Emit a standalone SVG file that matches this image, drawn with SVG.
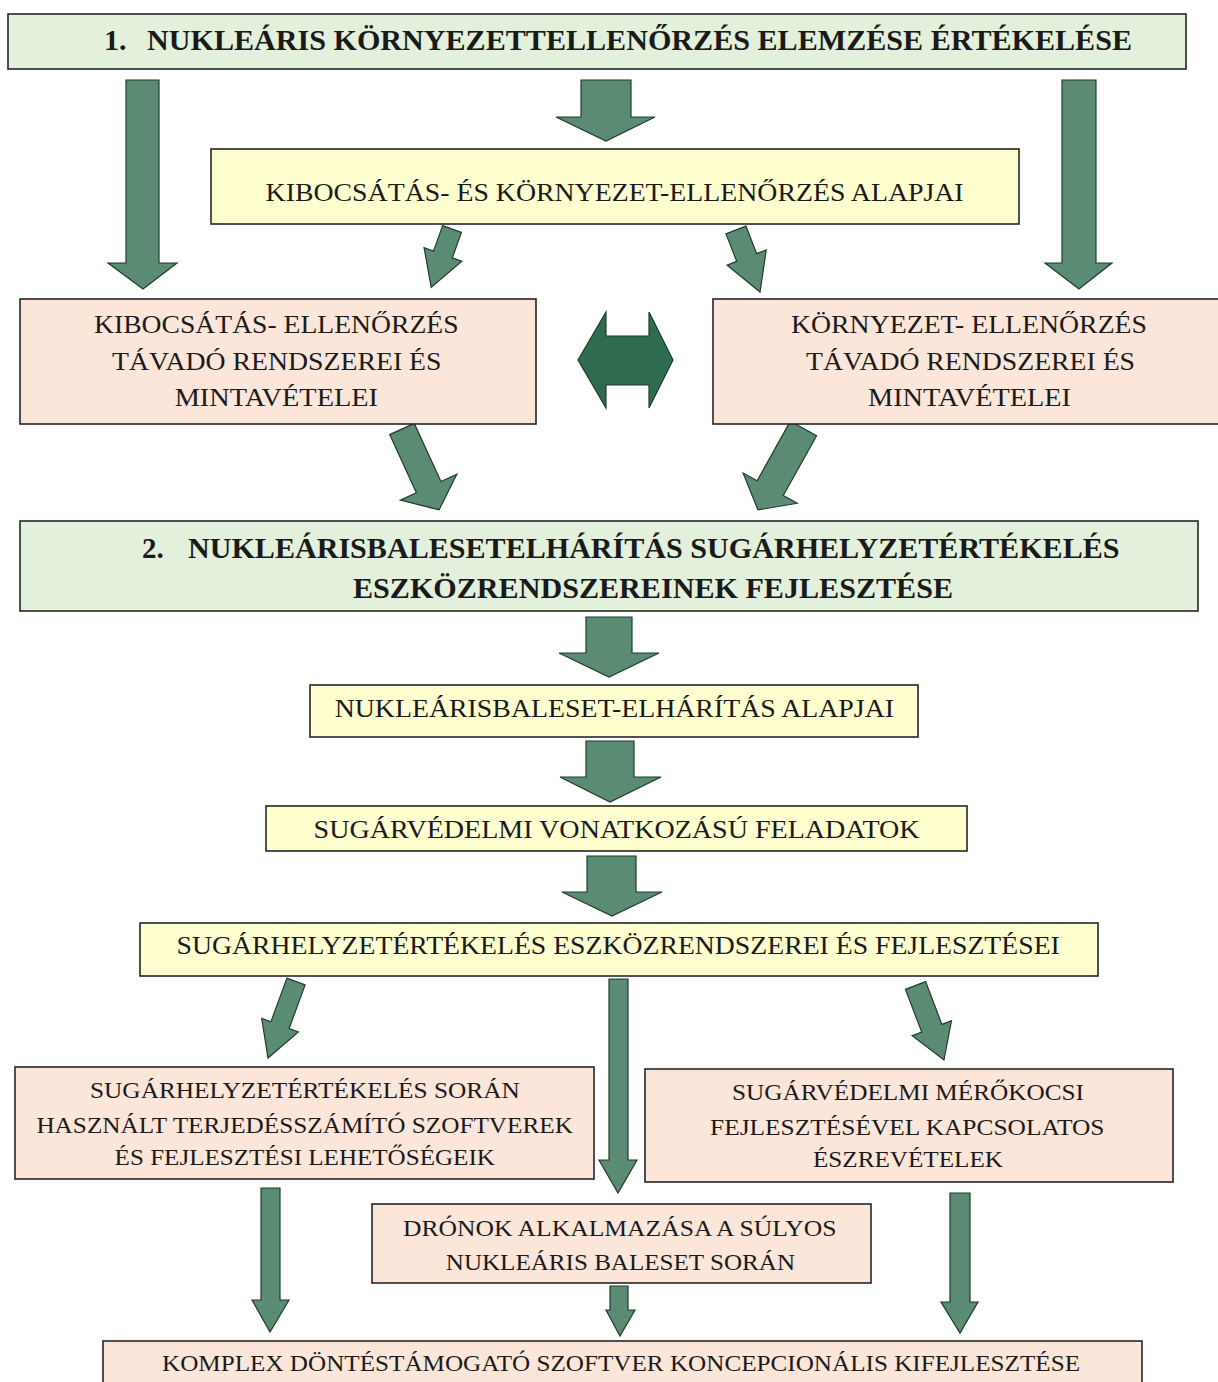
<svg xmlns="http://www.w3.org/2000/svg" width="1218" height="1382" viewBox="0 0 1218 1382">
<defs>
<style>
.box{stroke:#262626;stroke-width:1.6}
.g{fill:#e3f0db}
.y{fill:#ffffd0}
.p{fill:#fce6da}
.arr{fill:#5b8c73;stroke:#1f3b2c;stroke-width:1.2;stroke-linejoin:miter}
.dark{fill:#2f6c4f;stroke:#1f3b2c;stroke-width:1.2}
text{font-family:"Liberation Serif","Times New Roman",serif;fill:#1a1a1a;lengthAdjust:spacingAndGlyphs}
.t26{font-size:26px}
.t24{font-size:24px}
.b30{font-size:30px;font-weight:bold}
.b29{font-size:29px;font-weight:bold}
</style>
</defs>
<rect width="1218" height="1382" fill="#ffffff"/>

<g id="connectors">
<polygon class="arr" points="126,80 159,80 159,263 177,263 143,289 108,263 126,263"/>
<polygon class="arr" points="581,80 631,80 631,117 655,117 606,141 556,117 581,117"/>
<polygon class="arr" points="1062,80 1096,80 1096,263 1112,263 1079,289 1045,263 1062,263"/>
<polygon class="arr" transform="translate(452,229) rotate(19.6)" points="-10,0 10,0 10,27 20,27 0,62 -20,27 -10,27"/>
<polygon class="arr" transform="translate(736,230) rotate(-21.2)" points="-10.7,0 10.7,0 10.7,29.5 21,29.5 0,66.5 -21,29.5 -10.7,29.5"/>
<polygon class="dark" points="578,360 606,312 606,336 649,336 649,312 673,360 649,408 649,385 606,385 606,408"/>
<polygon class="arr" transform="translate(402,429) rotate(-24.6)" points="-13.5,0 13.5,0 13.5,64 31,64 0,89 -31,64 -13.5,64"/>
<polygon class="arr" transform="translate(803.5,428.5) rotate(29.2)" points="-15,0 15,0 15,68.3 31,68.3 0,93.3 -31,68.3 -15,68.3"/>
<polygon class="arr" points="586,617 632,617 632,653 659,653 609,677 559,653 586,653"/>
<polygon class="arr" points="586,741 634,741 634,777 661,777 610,802 560,777 586,777"/>
<polygon class="arr" points="587,856 636,856 636,892 662,892 612,916 562,892 587,892"/>
<polygon class="arr" transform="translate(296,981.5) rotate(20.1)" points="-9.7,0 9.7,0 9.7,46.5 19.5,46.5 0,81.5 -19.5,46.5 -9.7,46.5"/>
<polygon class="arr" points="609,979 628,979 628,1160 637,1160 618,1193 599,1160 609,1160"/>
<polygon class="arr" transform="translate(915.5,985.5) rotate(-20.9)" points="-10.8,0 10.8,0 10.8,45.8 21,45.8 0,79.8 -21,45.8 -10.8,45.8"/>
<polygon class="arr" points="261,1188 280,1188 280,1300 289,1300 270,1332 252,1300 261,1300"/>
<polygon class="arr" points="610,1286 628,1286 628,1310 635,1310 620,1336 606,1310 610,1310"/>
<polygon class="arr" points="950,1193 970,1193 970,1302 978,1302 960,1333 941,1302 950,1302"/>
</g>

<g id="n1">
<rect class="box g" x="8" y="14" width="1178" height="55"/>
<text class="b30" x="104" y="50">1.</text>
<text class="b30" x="147" y="50" textLength="985" lengthAdjust="spacingAndGlyphs">NUKLEÁRIS KÖRNYEZETTELLENŐRZÉS ELEMZÉSE ÉRTÉKELÉSE</text>
</g>

<g id="n2">
<rect class="box y" x="211" y="149" width="808" height="75"/>
<text class="t26" x="265.6" y="201" textLength="698" lengthAdjust="spacingAndGlyphs">KIBOCSÁTÁS- ÉS KÖRNYEZET-ELLENŐRZÉS ALAPJAI</text>
</g>

<g id="n3">
<rect class="box p" x="20" y="299" width="516" height="125"/>
<text class="t26" x="94" y="333" textLength="364.5" lengthAdjust="spacingAndGlyphs">KIBOCSÁTÁS- ELLENŐRZÉS</text>
<text class="t26" x="112" y="370" textLength="329.5" lengthAdjust="spacingAndGlyphs">TÁVADÓ RENDSZEREI ÉS</text>
<text class="t26" x="174.7" y="406" textLength="203.3" lengthAdjust="spacingAndGlyphs">MINTAVÉTELEI</text>
</g>

<g id="n4">
<rect class="box p" x="713" y="299" width="512" height="125"/>
<text class="t26" x="791" y="333" textLength="356" lengthAdjust="spacingAndGlyphs">KÖRNYEZET- ELLENŐRZÉS</text>
<text class="t26" x="806" y="370" textLength="329" lengthAdjust="spacingAndGlyphs">TÁVADÓ RENDSZEREI ÉS</text>
<text class="t26" x="868" y="406" textLength="203" lengthAdjust="spacingAndGlyphs">MINTAVÉTELEI</text>
</g>

<g id="n5">
<rect class="box g" x="20" y="521" width="1178" height="90"/>
<text class="b29" x="142" y="558">2.</text>
<text class="b29" x="188" y="558" textLength="931.5" lengthAdjust="spacingAndGlyphs">NUKLEÁRISBALESETELHÁRÍTÁS SUGÁRHELYZETÉRTÉKELÉS</text>
<text class="b29" x="353" y="598" textLength="600" lengthAdjust="spacingAndGlyphs">ESZKÖZRENDSZEREINEK FEJLESZTÉSE</text>
</g>

<g id="n6">
<rect class="box y" x="310" y="685" width="608" height="52"/>
<text class="t26" x="334.7" y="717" textLength="559.3" lengthAdjust="spacingAndGlyphs">NUKLEÁRISBALESET-ELHÁRÍTÁS ALAPJAI</text>
</g>

<g id="n7">
<rect class="box y" x="266" y="806" width="701" height="45"/>
<text class="t26" x="313.6" y="838" textLength="606" lengthAdjust="spacingAndGlyphs">SUGÁRVÉDELMI VONATKOZÁSÚ FELADATOK</text>
</g>

<g id="n8">
<rect class="box y" x="140" y="923" width="958" height="53"/>
<text class="t26" x="176.5" y="954" textLength="883.3" lengthAdjust="spacingAndGlyphs">SUGÁRHELYZETÉRTÉKELÉS ESZKÖZRENDSZEREI ÉS FEJLESZTÉSEI</text>
</g>

<g id="n9">
<rect class="box p" x="15" y="1067" width="579" height="112"/>
<text class="t24" x="90" y="1098" textLength="429.8" lengthAdjust="spacingAndGlyphs">SUGÁRHELYZETÉRTÉKELÉS SORÁN</text>
<text class="t24" x="36.4" y="1133" textLength="536.6" lengthAdjust="spacingAndGlyphs">HASZNÁLT TERJEDÉSSZÁMÍTÓ SZOFTVEREK</text>
<text class="t24" x="114.6" y="1165" textLength="380.3" lengthAdjust="spacingAndGlyphs">ÉS FEJLESZTÉSI LEHETŐSÉGEIK</text>
</g>

<g id="n10">
<rect class="box p" x="645" y="1069" width="528" height="113"/>
<text class="t24" x="732" y="1100" textLength="352" lengthAdjust="spacingAndGlyphs">SUGÁRVÉDELMI MÉRŐKOCSI</text>
<text class="t24" x="710" y="1135" textLength="394.5" lengthAdjust="spacingAndGlyphs">FEJLESZTÉSÉVEL KAPCSOLATOS</text>
<text class="t24" x="813" y="1167" textLength="190" lengthAdjust="spacingAndGlyphs">ÉSZREVÉTELEK</text>
</g>

<g id="n11">
<rect class="box p" x="372" y="1204" width="499" height="79"/>
<text class="t24" x="403" y="1236" textLength="433.5" lengthAdjust="spacingAndGlyphs">DRÓNOK ALKALMAZÁSA A SÚLYOS</text>
<text class="t24" x="445.8" y="1270" textLength="349.2" lengthAdjust="spacingAndGlyphs">NUKLEÁRIS BALESET SORÁN</text>
</g>

<g id="n12">
<rect class="box p" x="103" y="1341" width="1039" height="60"/>
<text class="t24" x="162" y="1371" textLength="918" lengthAdjust="spacingAndGlyphs">KOMPLEX DÖNTÉSTÁMOGATÓ SZOFTVER KONCEPCIONÁLIS KIFEJLESZTÉSE</text>
</g>
</svg>
